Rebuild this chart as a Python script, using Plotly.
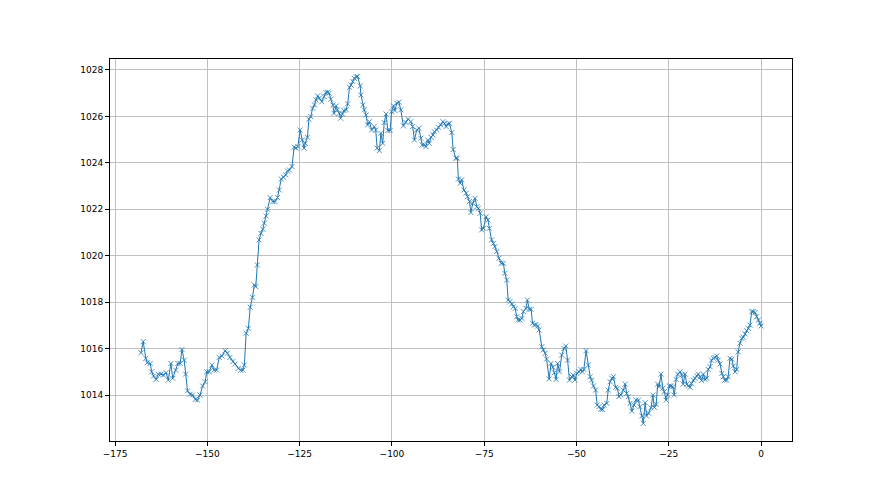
import plotly.graph_objects as go

hours = [
    -168.0, -167.4, -166.7, -166.3, -165.5, -165.1, -164.6, -163.9, -163.3, -162.6,
    -161.9, -161.2, -160.6, -159.9, -159.4, -158.6, -158.0, -157.4, -156.9, -156.3,
    -155.9, -155.4, -154.7, -154.0, -153.3, -152.7, -152.0, -151.3, -150.6, -150.2,
    -149.5, -148.8, -148.2, -147.5, -146.8, -146.1, -145.2, -144.6, -143.9, -143.1,
    -142.5, -141.6, -141.0, -140.4, -140.0, -139.5, -138.9, -138.4, -137.8, -137.3,
    -136.9, -136.5, -136.0, -135.5, -135.0, -134.6, -134.1, -133.7, -133.0, -132.3,
    -131.7, -131.0, -130.5, -130.0, -129.4, -128.8, -128.3, -127.8, -127.1, -126.5,
    -126.0, -125.5, -124.9, -124.3, -123.8, -123.5, -122.9, -122.5, -122.0, -121.5,
    -121.0, -120.6, -120.1, -119.7, -119.0, -118.4, -117.9, -117.4, -117.0, -116.6,
    -116.0, -115.7, -115.1, -114.8, -114.3, -113.9, -113.4, -113.0, -112.4, -112.0,
    -111.5, -111.1, -110.6, -110.2, -109.7, -109.3, -108.6, -108.4, -107.9, -107.5,
    -107.0, -106.6, -106.1, -105.5, -104.8, -104.4, -104.0, -103.4, -103.0, -102.5,
    -102.1, -101.6, -101.1, -100.5, -100.1, -99.6, -99.2, -98.7, -98.1, -97.6,
    -96.9, -96.3, -95.6, -94.9, -94.4, -93.9, -93.3, -92.7, -92.2, -91.8,
    -91.2, -90.8, -90.3, -89.9, -89.4, -88.9, -88.5, -87.9, -87.4, -86.8,
    -86.2, -85.8, -85.3, -84.9, -84.4, -83.8, -83.4, -82.7, -82.3, -82.0,
    -81.5, -81.1, -80.5, -79.9, -79.5, -79.0, -78.6, -78.1, -77.5, -77.0,
    -76.6, -76.1, -75.7, -75.2, -74.5, -74.0, -73.6, -73.0, -72.5, -72.1,
    -71.6, -71.0, -70.4, -69.8, -69.4, -68.9, -68.5, -68.0, -67.5, -67.1,
    -66.6, -66.2, -65.8, -65.3, -64.8, -64.4, -63.7, -63.3, -62.8, -62.3,
    -61.9, -61.4, -61.0, -60.5, -60.1, -59.4, -59.0, -58.5, -58.1, -57.4,
    -56.9, -56.4, -56.0, -55.5, -55.1, -54.6, -54.0, -53.4, -52.9, -52.4,
    -51.9, -51.3, -50.9, -50.4, -49.9, -49.3, -48.8, -48.4, -48.0, -47.4,
    -46.8, -46.3, -45.9, -45.4, -44.8, -44.4, -43.9, -43.4, -42.9, -42.5,
    -41.8, -41.4, -40.9, -40.4, -40.0, -39.4, -38.9, -38.5, -38.0, -37.3,
    -36.8, -36.4, -36.0, -35.5, -35.0, -34.4, -33.9, -33.2, -32.8, -32.3,
    -31.9, -31.4, -31.0, -30.5, -29.8, -29.3, -28.9, -28.4, -28.0, -27.6,
    -27.1, -26.6, -26.2, -25.7, -25.3, -24.8, -24.4, -23.9, -23.5, -23.0,
    -22.6, -21.9, -21.5, -21.1, -20.6, -20.1, -19.7, -19.2, -18.8, -18.3,
    -17.9, -17.4, -17.0, -16.5, -16.1, -15.6, -15.2, -14.7, -14.3, -13.8,
    -13.4, -12.9, -12.5, -12.0, -11.6, -11.1, -10.6, -10.2, -9.8, -9.3,
    -8.9, -8.4, -7.9, -7.5, -7.0, -6.6, -6.2, -5.7, -5.2, -4.8,
    -4.3, -3.9, -3.4, -3.0, -2.5, -2.1, -1.6, -1.2, -0.7, -0.3,
    0.0,
]

pressure = [
    1015.82, 1016.30, 1015.58, 1015.39, 1015.36, 1015.00, 1014.82, 1014.67, 1014.90, 1014.90,
    1014.86, 1014.96, 1014.64, 1015.36, 1014.72, 1015.07, 1015.36, 1015.36, 1015.96, 1015.50,
    1014.90, 1014.18, 1014.03, 1014.00, 1013.81, 1013.78, 1014.00, 1014.39, 1014.57, 1015.00,
    1015.00, 1015.29, 1015.07, 1015.07, 1015.62, 1015.68, 1015.91, 1015.80, 1015.62, 1015.44,
    1015.33, 1015.15, 1015.07, 1015.07, 1015.29, 1016.66, 1016.87, 1017.78, 1018.21, 1018.74,
    1018.67, 1019.60, 1020.68, 1020.96, 1021.14, 1021.40, 1021.71, 1022.00, 1022.50, 1022.33,
    1022.33, 1022.50, 1022.83, 1023.30, 1023.38, 1023.48, 1023.65, 1023.69, 1023.84, 1024.67,
    1024.63, 1024.70, 1025.41, 1024.98, 1024.63, 1024.84, 1025.10, 1025.88, 1025.99, 1026.35,
    1026.49, 1026.71, 1026.88, 1026.78, 1026.63, 1026.85, 1027.03, 1027.04, 1027.00, 1026.74,
    1026.49, 1026.13, 1026.45, 1026.28, 1026.13, 1025.92, 1026.10, 1026.25, 1026.28, 1026.54,
    1027.25, 1027.35, 1027.50, 1027.64, 1027.71, 1027.71, 1027.31, 1026.92, 1026.49, 1026.28,
    1026.06, 1025.63, 1025.77, 1025.41, 1025.56, 1025.41, 1024.63, 1024.52, 1025.27, 1024.84,
    1025.73, 1026.10, 1025.39, 1025.39, 1026.20, 1026.45, 1026.25, 1026.57, 1026.61, 1026.28,
    1025.59, 1025.75, 1025.88, 1025.77, 1025.56, 1024.98, 1025.41, 1025.49, 1025.06, 1024.77,
    1024.77, 1024.70, 1024.98, 1024.84, 1025.10, 1025.20, 1025.34, 1025.41, 1025.53, 1025.63,
    1025.77, 1025.70, 1025.56, 1025.67, 1025.70, 1025.30, 1024.57, 1024.20, 1024.20, 1023.30,
    1023.12, 1023.26, 1022.83, 1022.69, 1022.54, 1022.33, 1021.86, 1022.26, 1022.47, 1022.11,
    1022.04, 1021.83, 1021.11, 1021.18, 1021.68, 1021.54, 1021.18, 1020.68, 1020.53, 1020.39,
    1020.18, 1019.89, 1019.67, 1019.67, 1019.24, 1018.95, 1018.09, 1018.02, 1017.92, 1017.80,
    1017.73, 1017.37, 1017.23, 1017.23, 1017.30, 1017.59, 1017.73, 1018.09, 1017.69, 1017.69,
    1017.09, 1017.01, 1017.04, 1016.97, 1016.80, 1016.08, 1015.94, 1015.80, 1015.55, 1014.69,
    1015.36, 1015.19, 1014.96, 1014.67, 1015.36, 1015.00, 1015.72, 1016.01, 1016.11, 1015.50,
    1014.64, 1014.79, 1014.86, 1014.64, 1014.93, 1015.00, 1015.10, 1015.00, 1015.10, 1015.91,
    1015.29, 1014.79, 1014.64, 1014.39, 1014.21, 1013.57, 1013.50, 1013.38, 1013.38, 1013.57,
    1013.64, 1014.21, 1014.57, 1014.72, 1014.79, 1014.33, 1014.29, 1013.93, 1014.00, 1014.21,
    1014.47, 1014.07, 1013.93, 1013.64, 1013.31, 1013.57, 1013.78, 1013.78, 1013.50, 1013.10,
    1012.78, 1013.67, 1013.10, 1013.22, 1013.45, 1014.00, 1013.47, 1013.60, 1014.47, 1014.36,
    1014.90, 1014.29, 1014.14, 1013.78, 1014.00, 1014.39, 1014.39, 1014.36, 1014.00, 1014.67,
    1014.90, 1015.00, 1014.86, 1014.47, 1014.90, 1014.47, 1014.39, 1014.33, 1014.50, 1014.64,
    1014.72, 1014.82, 1014.90, 1014.79, 1014.62, 1014.90, 1014.67, 1014.72, 1015.10, 1015.22,
    1015.50, 1015.58, 1015.62, 1015.68, 1015.50, 1015.33, 1014.93, 1014.79, 1014.64, 1014.64,
    1014.79, 1015.58, 1015.54, 1015.25, 1015.00, 1015.10, 1015.86, 1016.23, 1016.44, 1016.49,
    1016.63, 1016.77, 1016.87, 1017.01, 1017.59, 1017.59, 1017.55, 1017.37, 1017.23, 1017.09,
    1016.97,
]

x_ticks = [-175, -150, -125, -100, -75, -50, -25, 0]
y_ticks = [1014, 1016, 1018, 1020, 1022, 1024, 1026, 1028]

fig = go.Figure()
fig.add_trace(go.Scatter(
    x=hours, y=pressure, mode="lines+markers",
    line=dict(color="#1f77b4", width=1),
    marker=dict(symbol="x-thin", size=5, color="#1f77b4",
                line=dict(color="#1f77b4", width=0.8)),
    showlegend=False,
))

axis_common = dict(
    showline=True, linecolor="black", linewidth=1, mirror=True,
    showgrid=True, gridcolor="#c0c0c0", gridwidth=0.8,
    ticks="outside", ticklen=4, tickcolor="black", tickwidth=1,
    zeroline=False,
    tickfont=dict(family="DejaVu Sans", size=9, color="black"),
)

fig.update_layout(
    width=880, height=495,
    margin=dict(l=102, r=96, t=51, b=62),
    paper_bgcolor="white", plot_bgcolor="white",
    xaxis=dict(range=[-176.4, 8.4], tickvals=x_ticks, **axis_common),
    yaxis=dict(range=[1012.02, 1028.47], tickvals=y_ticks, **axis_common),
)

fig.write_html("out.html")
